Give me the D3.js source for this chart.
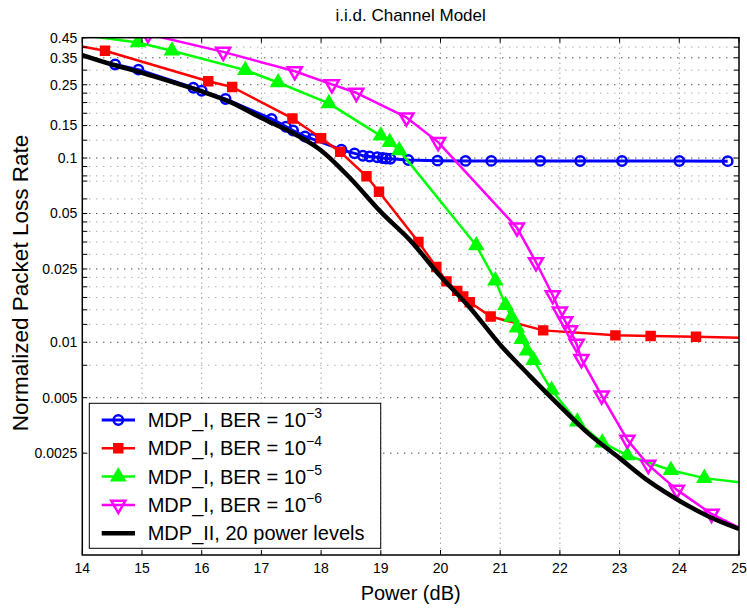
<!DOCTYPE html>
<html>
<head>
<meta charset="utf-8">
<script src="https://cdn.jsdelivr.net/npm/d3@7"></script>
<style>
  body { margin: 0; background: #fff; }
  svg { font-family: "Liberation Sans", Arial, sans-serif; }
</style>
</head>
<body>
<svg id="chart" width="747" height="610"></svg>
<script>
// axis ticks
var xTicks = [14, 15, 16, 17, 18, 19, 20, 21, 22, 23, 24, 25];
var yTicks = [0.0025, 0.005, 0.01, 0.025, 0.05, 0.1, 0.15, 0.25, 0.35, 0.45];
var yMinor = [0.4, 0.3, 0.225, 0.2, 0.175, 0.125, 0.09, 0.08, 0.075, 0.06,
              0.045, 0.04, 0.035, 0.03, 0.0225, 0.02, 0.0175, 0.015, 0.0125, 0.0075];

// MDP_I, BER = 1e-3
var blueData = [
  [14.55, 0.322], [14.94, 0.302], [15.86, 0.241], [16.0, 0.232], [16.4, 0.209],
  [17.17, 0.163], [17.41, 0.148], [17.53, 0.141], [17.73, 0.131], [17.85, 0.127],
  [18.34, 0.111], [18.56, 0.106], [18.7, 0.103], [18.81, 0.102], [18.94, 0.101],
  [19.03, 0.1], [19.09, 0.0995], [19.16, 0.099], [19.46, 0.0975], [19.95, 0.0968],
  [20.42, 0.0965], [20.85, 0.0965], [21.67, 0.0965], [22.34, 0.0963],
  [23.04, 0.0963], [24.0, 0.0963], [24.81, 0.0962]
];
// MDP_I, BER = 1e-4
var redData = [
  [13.8, 0.415], [14.38, 0.382], [16.11, 0.261], [16.51, 0.243], [17.52, 0.164],
  [18.0, 0.128], [18.32, 0.108], [18.76, 0.0796], [18.97, 0.0656], [19.63, 0.035],
  [19.93, 0.0256], [20.1, 0.0214], [20.28, 0.019], [20.38, 0.0177], [20.49, 0.0165],
  [20.84, 0.0138], [21.72, 0.0116], [22.93, 0.0109], [23.52, 0.0108],
  [24.28, 0.0107], [25.4, 0.0105]
];
// MDP_I, BER = 1e-5
var greenData = [
  [13.9, 0.47], [14.93, 0.424], [15.5, 0.382], [16.73, 0.3], [17.28, 0.257],
  [18.13, 0.198], [19.0, 0.132], [19.15, 0.122], [19.31, 0.11], [20.6, 0.0335],
  [20.92, 0.0216], [21.09, 0.0159], [21.19, 0.0137], [21.28, 0.012], [21.36, 0.0104],
  [21.45, 0.009], [21.56, 0.008], [21.86, 0.0055], [22.29, 0.0037], [22.71, 0.00285],
  [23.13, 0.00243], [23.86, 0.00202], [24.42, 0.00183], [25.4, 0.00168]
];
// MDP_I, BER = 1e-6
var magentaData = [
  [15.1, 0.47], [16.36, 0.377], [17.56, 0.296], [18.18, 0.251], [18.59, 0.226],
  [19.43, 0.166], [19.96, 0.122], [21.28, 0.0419], [21.6, 0.0272], [21.88, 0.018],
  [22.0, 0.0147], [22.09, 0.013], [22.17, 0.0116], [22.28, 0.0098], [22.36, 0.0081],
  [22.7, 0.00513], [23.13, 0.00295], [23.48, 0.00216], [23.96, 0.00158],
  [24.54, 0.00117], [25.3, 0.00088]
];
// MDP_II, 20 power levels
var blackData = [
  [14.0, 0.362], [14.5, 0.322], [15.0, 0.29], [15.5, 0.259], [16.0, 0.23],
  [16.5, 0.2], [17.0, 0.165], [17.5, 0.138], [18.0, 0.11], [18.5, 0.077],
  [19.0, 0.051], [19.5, 0.0355], [20.0, 0.0228], [20.5, 0.0153], [21.0, 0.0097],
  [21.5, 0.00655], [22.0, 0.0045], [22.5, 0.00315], [23.0, 0.00235],
  [23.5, 0.00175], [24.0, 0.00138], [24.5, 0.00113], [25.0, 0.00097]
];

var series = [
  { name: "MDP_I, BER = 10", sup: "\u22123", data: blueData, color: "#0000ff", marker: "circle", width: 3 },
  { name: "MDP_I, BER = 10", sup: "\u22124", data: redData, color: "#ff0000", marker: "square", width: 2.5 },
  { name: "MDP_I, BER = 10", sup: "\u22125", data: greenData, color: "#00ff00", marker: "up", width: 2.5 },
  { name: "MDP_I, BER = 10", sup: "\u22126", data: magentaData, color: "#ff00ff", marker: "down", width: 2.5 },
  { name: "MDP_II, 20 power levels", sup: null, data: blackData, color: "#000000", marker: null, width: 4.5 }
];

var margin = { left: 82.3, right: 8, top: 37.7, bottom: 55 };
var W = 747, H = 610;
var svg = d3.select("#chart");

var x = d3.scaleLinear().domain([14, 25]).range([margin.left, W - margin.right]);
var y = d3.scaleLog().domain([0.0007, 0.45]).range([H - margin.bottom, margin.top]);

var x0 = x.range()[0], x1 = x.range()[1];
var y0 = y.range()[0], y1 = y.range()[1];

// grid
var grid = svg.append("g");
grid.selectAll("line.vg").data(xTicks.slice(1, -1)).enter().append("line")
  .attr("x1", d => x(d)).attr("x2", d => x(d))
  .attr("y1", y1).attr("y2", y0)
  .attr("stroke", "#777").attr("stroke-width", 1).attr("stroke-dasharray", "1,4");
grid.selectAll("line.hm").data(yMinor).enter().append("line")
  .attr("x1", x0).attr("x2", x1)
  .attr("y1", d => y(d)).attr("y2", d => y(d))
  .attr("stroke", "#888").attr("stroke-width", 1).attr("stroke-dasharray", "1,6");
grid.selectAll("line.hg").data(yTicks.slice(0, -1)).enter().append("line")
  .attr("x1", x0).attr("x2", x1)
  .attr("y1", d => y(d)).attr("y2", d => y(d))
  .attr("stroke", "#000").attr("stroke-width", 1).attr("stroke-dasharray", "1,6");

// clip
svg.append("clipPath").attr("id", "clip").append("rect")
  .attr("x", x0).attr("y", y1).attr("width", x1 - x0).attr("height", y0 - y1);

var line = d3.line().x(d => x(d[0])).y(d => y(d[1]));
var smoothLine = d3.line().x(d => x(d[0])).y(d => y(d[1])).curve(d3.curveMonotoneX);

function markerPath(type) {
  if (type === "circle") return d3.symbol().type(d3.symbolCircle).size(70)();
  if (type === "square") return d3.symbol().type(d3.symbolSquare).size(80)();
  return d3.symbol().type(d3.symbolTriangle).size(85)();
}

function drawMarker(g, s, px, py) {
  var p = g.append("path").attr("d", markerPath(s.marker))
    .attr("transform", "translate(" + px + "," + py + ")" + (s.marker === "down" ? " rotate(180)" : ""));
  if (s.marker === "circle" || s.marker === "down") {
    p.attr("fill", "none").attr("stroke", s.color).attr("stroke-width", 2.5);
  } else {
    p.attr("fill", s.color).attr("stroke", s.color).attr("stroke-width", 1.5);
  }
}

var plot = svg.append("g").attr("clip-path", "url(#clip)");
series.forEach(function (s) {
  var g = plot.append("g");
  g.append("path").datum(s.data).attr("d", s.marker ? line : smoothLine)
    .attr("fill", "none").attr("stroke", s.color).attr("stroke-width", s.width)
    .attr("stroke-linejoin", "round");
  if (s.marker) {
    s.data.forEach(function (d) { drawMarker(g, s, x(d[0]), y(d[1])); });
  }
});

// axes box and ticks
var tl = 5;
var axes = svg.append("g").attr("stroke", "#000");
axes.append("rect").attr("x", x0).attr("y", y1).attr("width", x1 - x0).attr("height", y0 - y1)
  .attr("fill", "none").attr("stroke-width", 1.5);
xTicks.forEach(function (t) {
  axes.append("line").attr("x1", x(t)).attr("x2", x(t)).attr("y1", y0).attr("y2", y0 - tl);
  axes.append("line").attr("x1", x(t)).attr("x2", x(t)).attr("y1", y1).attr("y2", y1 + tl);
});
yTicks.concat(yMinor).forEach(function (t) {
  axes.append("line").attr("x1", x0).attr("x2", x0 + tl).attr("y1", y(t)).attr("y2", y(t));
  axes.append("line").attr("x1", x1).attr("x2", x1 - tl).attr("y1", y(t)).attr("y2", y(t));
});

// tick labels
svg.append("g").selectAll("text").data(xTicks).enter().append("text")
  .attr("x", d => x(d)).attr("y", y0 + 18)
  .attr("text-anchor", "middle").attr("font-size", 14)
  .text(d => d);
svg.append("g").selectAll("text").data(yTicks).enter().append("text")
  .attr("x", x0 - 5).attr("y", d => y(d)).attr("dy", "0.35em")
  .attr("text-anchor", "end").attr("font-size", 14)
  .text(d => d);

// labels
svg.append("text").attr("x", (x0 + x1) / 2).attr("y", 21)
  .attr("text-anchor", "middle").attr("font-size", 17).text("i.i.d. Channel Model");
svg.append("text").attr("x", (x0 + x1) / 2).attr("y", 600)
  .attr("text-anchor", "middle").attr("font-size", 20).text("Power (dB)");
svg.append("text")
  .attr("transform", "translate(28,283) rotate(-90)")
  .attr("text-anchor", "middle").attr("font-size", 22.5).text("Normalized Packet Loss Rate");

// legend
var lg = svg.append("g");
lg.append("rect").attr("x", 89.3).attr("y", 403.3).attr("width", 291.4).attr("height", 145)
  .attr("fill", "#fff").attr("stroke", "#000").attr("stroke-width", 1);
series.forEach(function (s, i) {
  var ly = 420 + i * 28.3;
  lg.append("line").attr("x1", 101.7).attr("x2", 135).attr("y1", ly).attr("y2", ly)
    .attr("stroke", s.color).attr("stroke-width", s.width);
  if (s.marker) drawMarker(lg, s, 118.3, ly);
  var t = lg.append("text").attr("x", 147.7).attr("y", ly + 7).attr("font-size", 20);
  t.append("tspan").text(s.name);
  if (s.sup) t.append("tspan").attr("dy", -9).attr("font-size", 14).text(s.sup);
});
</script>
</body>
</html>
